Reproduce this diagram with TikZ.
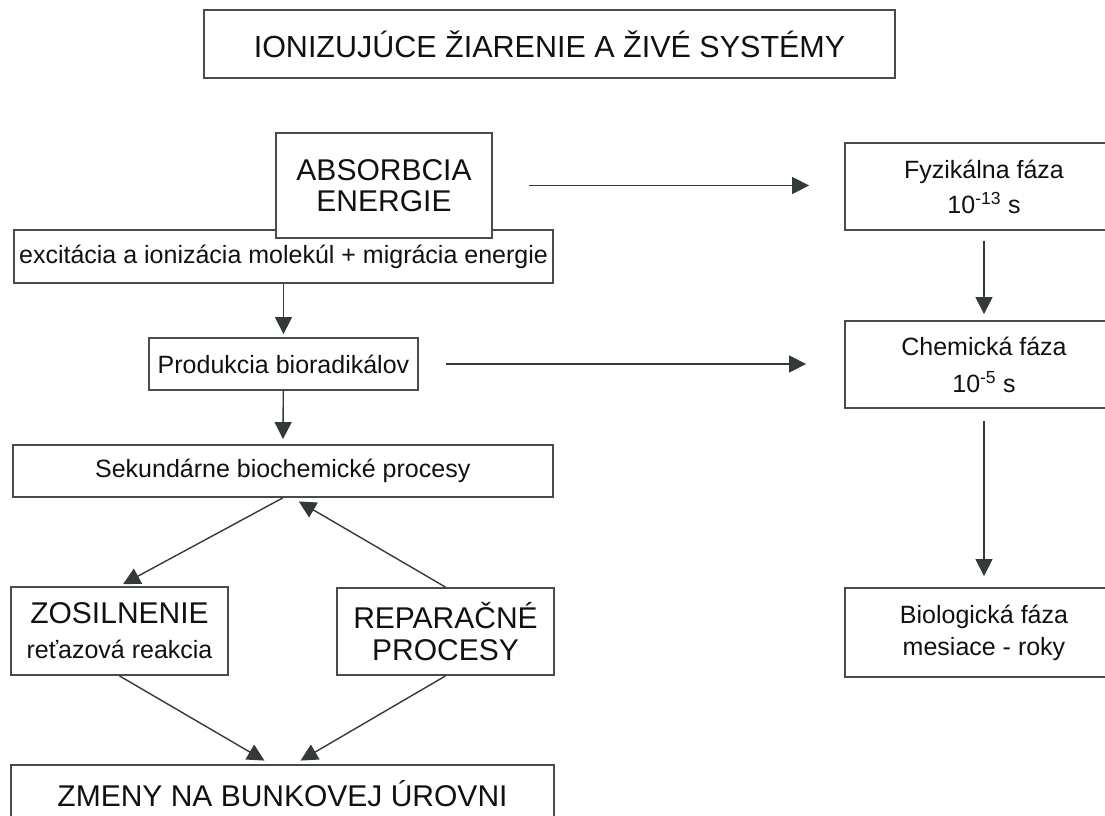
\documentclass[tikz,border=0pt]{standalone}
\usepackage{fontspec}
\setmainfont{Liberation Sans}
\usepackage{tikz}
\usepackage{xcolor}
\usetikzlibrary{positioning, arrows.meta, calc}
\definecolor{boxLine}{HTML}{4A4A4A}
\definecolor{arrowInk}{HTML}{343B37}
\definecolor{textInk}{HTML}{111111}

\begin{document}
\begin{tikzpicture}[x=1pt, y=-1pt,
    box/.style={draw=boxLine, line width=1.8pt, fill=white, inner sep=0pt,
                align=center, text=textInk},
    capsfont/.style={font=\fontsize{30}{31}\selectfont},
    smallfont/.style={font=\fontsize{25}{32}\selectfont},
    flow/.style={-{Triangle[length=17pt, width=17pt]}, line width=1.4pt, draw=arrowInk}]
  \clip (0,0) rectangle (1105,815);
  \fill[white] (0,0) rectangle (1105,815);

  % title
  \node[box, font=\fontsize{30.5}{34}\selectfont, minimum width=691, minimum height=68]
    (title) at (549.5, 44) {IONIZUJÚCE ŽIARENIE A ŽIVÉ SYSTÉMY};

  % left column
  \node[box, smallfont, minimum width=539, minimum height=53]
    (excit) at (283.5, 256.5) {excitácia a ionizácia molekúl + migrácia energie};
  \node[box, capsfont, minimum width=216, minimum height=105]
    (absorb) at (384, 185.5) {ABSORBCIA\\ENERGIE};
  \node[box, smallfont, minimum width=269, minimum height=52]
    (prod) at (283.5, 364) {Produkcia bioradikálov};
  \node[box, smallfont, minimum width=540, minimum height=52]
    (sek) at (282.75, 471) {Sekundárne biochemické procesy};
  \node[box, font=\fontsize{25}{35}\selectfont, minimum width=217, minimum height=88]
    (zosil) at (119.5, 631) {{\fontsize{30}{35}\selectfont ZOSILNENIE}\\reťazová reakcia};
  \node[box, font=\fontsize{30}{32}\selectfont, minimum width=217, minimum height=87]
    (repar) at (445.5, 631.5) {REPARAČNÉ\\PROCESY};
  \node[box, capsfont, minimum width=543, minimum height=58]
    (zmeny) at (282.5, 794) {ZMENY NA BUNKOVEJ ÚROVNI};

  % right column (phases)
  \node[box, font=\fontsize{25}{35}\selectfont, minimum width=278, minimum height=87]
    (fyz) at (984, 186.5) {Fyzikálna fáza\\10\textsuperscript{-13} s};
  \node[box, font=\fontsize{25}{37}\selectfont, minimum width=278, minimum height=87]
    (chem) at (984, 364.5) {Chemická fáza\\10\textsuperscript{-5} s};
  \node[box, smallfont, minimum width=278, minimum height=89]
    (bio) at (984, 632.5) {Biologická fáza\\mesiace - roky};

  % connectors
  \draw[flow, shorten <=36pt, shorten >=35pt] (absorb.east) -- (absorb.east -| fyz.west);
  \draw[flow, shorten <=27pt, shorten >=38pt] (prod.east) -- (prod.east -| chem.west);
  \draw[flow, shorten <=10pt, shorten >=6pt] (fyz) -- (chem);
  \draw[flow, shorten <=12pt, shorten >=11pt] (chem) -- (bio);
  \draw[flow, shorten >=3pt] (excit.south) -- (prod.north);
  \draw[flow, shorten >=5pt] (prod) -- (sek);
  \draw[flow, shorten >=4pt] (sek.south) -- (zosil.north);
  \draw[flow, shorten >=7pt] (repar.north) -- ([xshift=10]sek.south);
  \draw[flow, shorten >=7pt] (zosil.south) -- ([xshift=-12]zmeny.north);
  \draw[flow, shorten >=7pt] (repar.south) -- ([xshift=12]zmeny.north);
\end{tikzpicture}
\end{document}
